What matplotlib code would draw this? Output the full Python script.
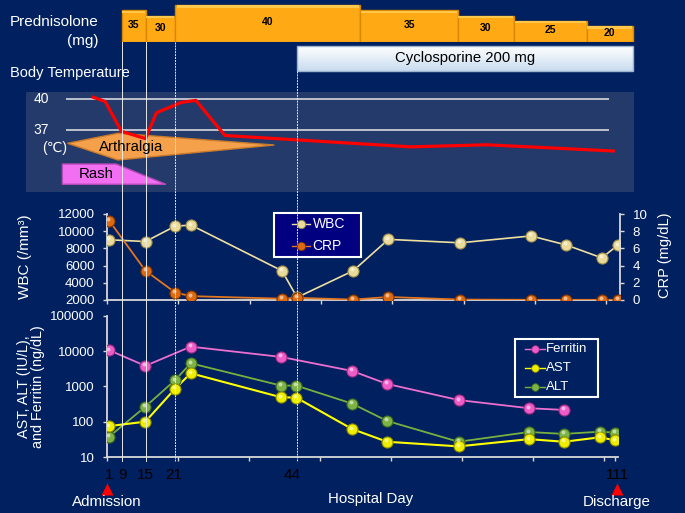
import numpy as np
import matplotlib
matplotlib.use('Agg')
import matplotlib.pyplot as plt
from matplotlib.patches import Rectangle, Polygon
from matplotlib.colors import LinearSegmentedColormap
from matplotlib.ticker import NullLocator
from matplotlib.transforms import offset_copy, blended_transform_factory

plt.rcParams['font.family'] = ['Liberation Sans', 'DejaVu Sans']

W, H = 685, 513
BG = '#002060'

# ---- data (x = position on the hospital timeline, ticks every 15 units from day 1) ----
lab_x = [1.5, 9.1, 15.4, 18.7, 37.8, 41.0, 52.8, 60.2, 75.3, 90.2, 97.6, 105.1, 108.4]
wbc = [9000, 8800, 10600, 10700, 5400, 2300, 5400, 9050, 8650, 9450, 8400, 6900, 8350]
crp = [9.2, 3.4, 0.85, 0.45, 0.15, 0.25, 0.05, 0.35, 0.05, 0.02, 0.02, 0.02, 0.02]
ast = [75, 100, 860, 2350, 490, 480, 62, 27, 20, 32, 27, 36, 30]
alt = [38, 265, 1500, 4500, 1050, 1050, 325, 105, 27, 51, 45, 52, 49]
ferritin_x = [1.5, 9.1, 18.7, 37.8, 52.8, 60.2, 75.3, 90.2, 97.6]
ferritin = [10500, 3800, 13300, 6800, 2730, 1170, 410, 240, 215]

temp_x = [-1.9, 0.6, 4.05, 9.1, 11.4, 16.6, 19.7, 25.8, 64.9, 80.9, 107.5]
temp = [40.2, 39.8, 36.9, 36.2, 38.7, 39.7, 39.9, 36.5, 35.4, 35.6, 35.0]

pred_edges = [4.16, 9.10, 15.24, 54.31, 74.80, 86.62, 101.92, 111.58]
pred_dose = [35, 30, 40, 35, 30, 25, 20]
cyclo_span = (40.97, 111.58)

arthralgia_span = (-7.3, 3.3, 36.2)   # start, widest, end
rash_span = (-8.4, 2.9, 13.4)

day_labels = ['1', '9', '15', '21', '44', '111']
day_pos = [1.4, 4.3, 9.1, 15.2, 40.2, 108.9]
marker_days = [4.16, 9.10, 15.24, 40.97]

# ---- layout helpers (reference pixels) ----
PX0, PX_UNIT = 107.0, 71.3 / 15


def to_d(px):
    return 1 + (px - PX0) / PX_UNIT


fig = plt.figure(figsize=(W / 100, H / 100), dpi=100, facecolor=BG)


def add_panel(left, top, right, bottom):
    ax = fig.add_axes([left / W, 1 - bottom / H, (right - left) / W, (bottom - top) / H])
    ax.set_xlim(to_d(left), to_d(right))
    ax.set_facecolor('none')
    return ax


def balls(ax, x, y, face, edge, ms=8):
    ax.plot(x, y, 'o', ms=ms, mfc=face, mec=edge, mew=0.8, zorder=3)
    hi = offset_copy(ax.transData, fig=fig, x=-1, y=1.5, units='dots')
    ax.plot(x, y, 'o', ms=ms * 0.35, mfc='white', mec='none', alpha=0.55,
            transform=hi, zorder=4)


AXC = '#D9D9D9'


def style(ax, sides):
    for s in ['left', 'right', 'top', 'bottom']:
        ax.spines[s].set_visible(s in sides)
        ax.spines[s].set_color(AXC)
        ax.spines[s].set_linewidth(1.3)
    ax.tick_params(colors=AXC, labelcolor='white', length=3, width=1, labelsize=9.5, pad=6)


# ---- prednisolone bars ----
ax_p = add_panel(0, 0, 685, 41.7)
base = 5.1
ax_p.set_ylim(base, base + 41.7 / 1.048)
ax_p.axis('off')
edges = np.array(pred_edges)
centers = (edges[:-1] + edges[1:]) / 2
widths = np.diff(edges)
dose = np.array(pred_dose)
ax_p.bar(centers, dose - base, widths, bottom=base,
         color='#FFA914', edgecolor='#D98700', lw=1)
# light bevel on top of each box
ax_p.bar(centers, 2.2, widths * 0.98, bottom=dose - 2.4, color='#FFC84A', lw=0)
for c, d in zip(centers, pred_dose):
    ax_p.text(c, (base + d) / 2 + 1, str(d), ha='center', va='center',
              fontsize=7.5, fontweight='bold', color='black')

# ---- temperature panel ----
ax_t = add_panel(26, 92, 633.5, 192)
ax_t.set_facecolor('#233A6B')
ax_t.set_ylim(31.03, 40.71)
for s in ax_t.spines.values():
    s.set_visible(False)
ax_t.set_xticks([])
ax_t.set_yticks([])
ax_t.hlines([40, 37], to_d(66), to_d(608.5), color='#E6E6E6', lw=1.1, zorder=1)
bt = blended_transform_factory(ax_t.transData, ax_t.transAxes)
a0, a1, a2 = arthralgia_span
ax_t.add_patch(Polygon([(a0, 0.487), (a1, 0.587), (a2, 0.47), (a1, 0.32)],
                       closed=True, transform=bt, facecolor='#F5A04A',
                       edgecolor='#C97A2C', lw=1, zorder=2))
r0, r1, r2 = rash_span
ax_t.add_patch(Polygon([(r0, 0.28), (r1, 0.28), (r2, 0.077), (r0, 0.077)],
                       closed=True, transform=bt, facecolor='#F26EF2',
                       edgecolor='#B548B5', lw=1, zorder=2))
ax_t.plot(temp_x, temp, color='#FF0000', lw=2.3, zorder=3)

# ---- WBC / CRP panel ----
ax_w = add_panel(107, 214, 620, 300)
ax_w.set_ylim(2000, 12000)
ax_w.set_yticks(range(2000, 12001, 2000))
ax_w.set_xticks(np.arange(1, 107, 15))
style(ax_w, ['left', 'bottom'])
ax_w.tick_params(axis='x', labelbottom=False)
ax_w.plot(lab_x, wbc, color='#F0E0A0', lw=1.2, zorder=2)
balls(ax_w, lab_x, wbc, '#EADB9A', '#9C8A4A')

ax_c = ax_w.twinx()
ax_c.set_ylim(0, 10)
ax_c.set_yticks(range(0, 11, 2))
style(ax_c, ['right'])
ax_c.plot(lab_x, crp, color='#E4761E', lw=1.3, zorder=2)
balls(ax_c, lab_x, crp, '#DD6A12', '#7A3300')

# ---- AST / ALT / Ferritin panel ----
ax_l = add_panel(107, 315.7, 617.5, 457)
ax_l.set_yscale('log')
ax_l.set_ylim(10, 100000)
ax_l.set_yticks([10, 100, 1000, 10000, 100000],
                labels=['10', '100', '1000', '10000', '100000'])
ax_l.yaxis.set_minor_locator(NullLocator())
ax_l.set_xticks(list(np.arange(1, 107, 15)) + [108.4])
ax_l.set_xticks(day_pos, day_labels, minor=True)
style(ax_l, ['left', 'bottom'])
ax_l.tick_params(axis='x', which='major', labelbottom=False)
ax_l.tick_params(axis='x', which='minor', length=0, labelsize=11, pad=8)

ax_l.plot(ferritin_x, ferritin, color='#EE6FD0', lw=1.3, zorder=2)
ax_l.plot(lab_x, alt, color='#78B040', lw=1.3, zorder=2)
ax_l.plot(lab_x, ast, color='#FFFF00', lw=1.5, zorder=2)
balls(ax_l, ferritin_x, ferritin, '#EE5CC8', '#9A2A80')
balls(ax_l, lab_x, alt, '#7DB244', '#3D6620')
balls(ax_l, lab_x, ast, '#EEEE00', '#8A8A00')

# ---- overlay: annotations, legends, guide lines ----
ov = add_panel(0, 0, 685, 513)
ov.axis('off')
ov.set_zorder(5)


def label(px, py, s, **kw):
    kw.setdefault('color', 'white')
    kw.setdefault('ha', 'center')
    kw.setdefault('va', 'center')
    ov.text(to_d(px), py, s, **kw)


# cyclosporine box with a soft vertical gradient
cyc_cmap = LinearSegmentedColormap.from_list('cyc', ['#FFFFFF', '#C9DCEF'])
ov.imshow(np.linspace(0, 1, 50).reshape(-1, 1), cmap=cyc_cmap, aspect='auto',
          extent=(cyclo_span[0], cyclo_span[1], 70.7, 45.7), zorder=1)
ov.add_patch(Rectangle((cyclo_span[0], 45.7), cyclo_span[1] - cyclo_span[0], 25,
                       facecolor='none', edgecolor='#9DB5CF', lw=1, zorder=2))
label(464.8, 58, 'Cyclosporine 200 mg', color='black', fontsize=10.7, zorder=3)

# guide lines for days 9, 15, 21, 44
for d, top, ls in zip(marker_days, [41.7, 41.7, 41.7, 70.7],
                      ['-', '-', (0, (2, 1)), (0, (2, 1))]):
    ov.plot([d, d], [top, 461], color='#E8E8E8', lw=0.7, ls=ls)

label(98.5, 22, 'Prednisolone', ha='right', fontsize=11)
label(98.5, 41, '(mg)', ha='right', fontsize=11)
label(9.6, 73, 'Body Temperature', ha='left', fontsize=10.5)
label(41, 99.3, '40', fontsize=10)
label(41, 130.3, '37', fontsize=10)
label(55, 148.3, '(℃)', fontsize=10)
label(131, 146.7, 'Arthralgia', color='black', fontsize=10.8)
label(96, 174.3, 'Rash', color='black', fontsize=10.8)

label(25, 257, 'WBC (/mm³)', rotation=90, fontsize=11)
label(664.5, 255, 'CRP (mg/dL)', rotation=90, fontsize=10.5)
label(31, 387, 'AST, ALT (IU/L),\nand Ferritin (ng/dL)', rotation=90,
      fontsize=10.4, linespacing=0.95)

label(370.5, 499, 'Hospital Day', fontsize=10.8)
label(107, 502, 'Admission', fontsize=10.9)
label(617, 502, 'Discharge', fontsize=10.9)
ov.plot([to_d(107), to_d(617)], [489, 489], '^', color='#FF0000', ms=9, mec='none')

# WBC / CRP legend
ov.add_patch(Rectangle((to_d(274.3), 213.3), to_d(361) - to_d(274.3), 44,
                       facecolor='#000080', edgecolor='white', lw=1.5))
for name, py, lc, fc, ec in [('WBC', 224, '#F0E0A0', '#EADB9A', '#9C8A4A'),
                             ('CRP', 246, '#E4761E', '#DD6A12', '#7A3300')]:
    ov.plot([to_d(291.7), to_d(310)], [py, py], color=lc, lw=1)
    ov.plot([to_d(301)], [py], 'o', ms=6, mfc=fc, mec=ec, mew=0.6)
    label(312.7, py, name, ha='left', fontsize=10)

# Ferritin / AST / ALT legend
ov.add_patch(Rectangle((to_d(515.3), 339.3), to_d(598.3) - to_d(515.3), 58,
                       facecolor='none', edgecolor='white', lw=1.5))
for name, py, lc, fc, ec in [('Ferritin', 349, '#EE6FD0', '#EE5CC8', '#9A2A80'),
                             ('AST', 368.3, '#FFFF00', '#EEEE00', '#8A8A00'),
                             ('ALT', 387.3, '#78B040', '#7DB244', '#3D6620')]:
    ov.plot([to_d(525), to_d(545)], [py, py], color=lc, lw=1)
    ov.plot([to_d(535)], [py], 'o', ms=5.5, mfc=fc, mec=ec, mew=0.6)
    label(546.3, py, name, ha='left', fontsize=9.5)

ov.set_xlim(to_d(0), to_d(685))
ov.set_ylim(513, 0)

fig.savefig('out.png', dpi=100, facecolor=BG)
